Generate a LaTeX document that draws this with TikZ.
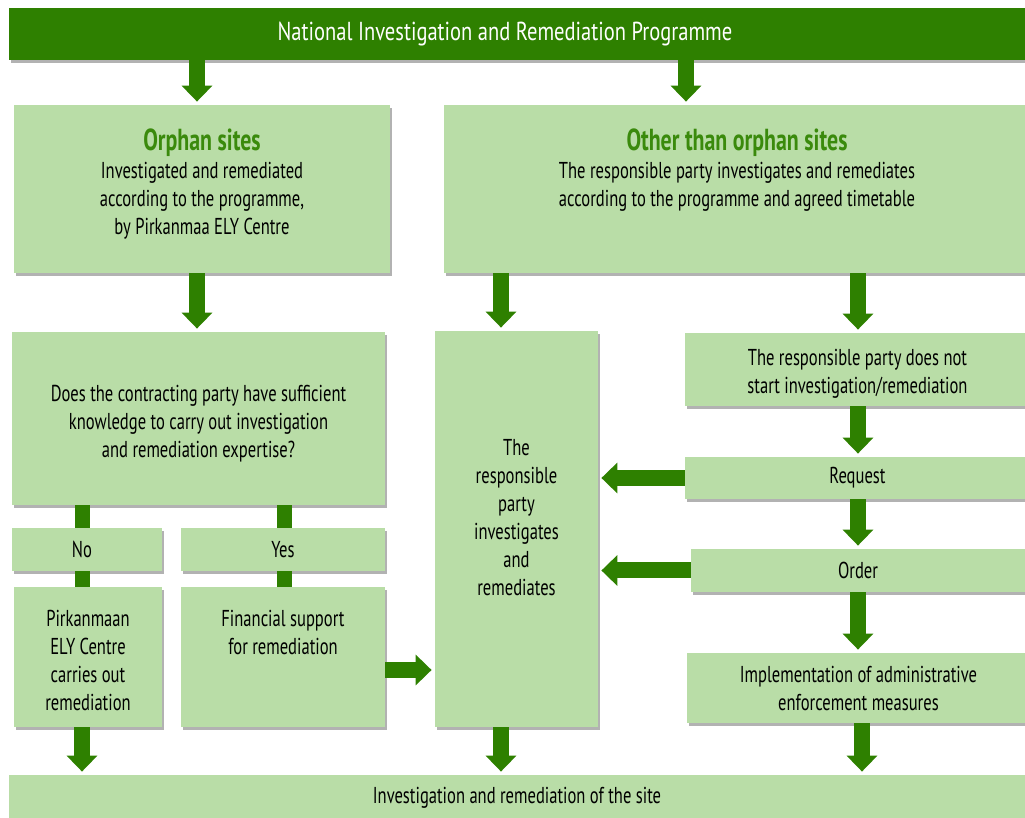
\documentclass[tikz,border=0pt]{standalone}
\usepackage{fontspec}
\setmainfont{PT Sans}[FakeStretch=0.72]
\newfontfamily\bannerfont{PT Sans}[FakeStretch=0.79]
\usepackage{tikz}
\usetikzlibrary{arrows.meta,shadows}

\definecolor{progGreen}{RGB}{46,128,0}
\definecolor{boxGreen}{RGB}{185,221,167}
\definecolor{titleGreen}{RGB}{58,138,12}
\newcommand{\sitetitle}{\fontsize{15.2}{14}\selectfont\bfseries\color{titleGreen}}

\begin{document}
\begin{tikzpicture}[
  x=0.5pt, y=-0.5pt,
  box/.style={rectangle, fill=boxGreen, align=center, inner sep=2pt,
              font=\fontsize{11.5}{14}\selectfont, text=black,
              drop shadow={shadow xshift=1pt, shadow yshift=-1.5pt,
                           opacity=0.3, fill=black}},
  banner/.style={box, fill=progGreen, text=white,
                 font=\bannerfont\fontsize{13}{14}\selectfont},
  arr/.style={-{Triangle[width=15pt,length=8pt]}, line width=8pt,
              progGreen, shorten >=1.5pt},
  bar/.style={line width=7.5pt, progGreen}
]
\useasboundingbox (0,0) rectangle (1025,818);

% boxes
\node[banner, minimum width=508pt, minimum height=26pt] (prog) at (517,34)
  {National Investigation and Remediation Programme\hspace{12pt}};
\node[box, minimum width=188pt, minimum height=84pt, text depth=7.5pt] (orphan) at (202,189)
  {{\sitetitle Orphan sites}\\Investigated and remediated\\according to the programme,\\by Pirkanmaa ELY Centre};
\node[box, minimum width=293pt, minimum height=84pt, text depth=21pt] (other) at (737,189)
  {{\sitetitle Other than orphan sites}\\The responsible party investigates and remediates\\according to the programme and agreed timetable};
\node[box, minimum width=186.5pt, minimum height=86.5pt, text height=41.3pt] (question) at (198.5,418.5)
  {Does the contracting party have sufficient\\knowledge to carry out investigation\\and remediation expertise?};
\node[box, minimum width=81.5pt, minimum height=198pt, text depth=11.5pt] (party) at (516.5,529)
  {The\\responsible\\party\\investigates\\and\\remediates};
\node[box, minimum width=172.5pt, minimum height=36.5pt, text height=26pt] (nostart) at (857.5,369.5)
  {The responsible party does not\\start investigation/remediation};
\node[box, minimum width=172.5pt, minimum height=21pt] (request) at (857.5,478) {Request};
\node[box, minimum width=167pt, minimum height=21.5pt] (order) at (858,570.5) {Order};
\node[box, minimum width=171.5pt, minimum height=35pt] (impl) at (858.5,688)
  {Implementation of administrative\\enforcement measures};
\node[box, minimum width=75pt, minimum height=21.5pt] (no) at (87,549.5) {No\hspace{5pt}};
\node[box, minimum width=102pt, minimum height=21.5pt] (yes) at (283,549.5) {Yes};
\node[box, minimum width=74pt, minimum height=70pt, text height=53.3pt] (pirk) at (88,657)
  {Pirkanmaan\\ELY Centre\\carries out\\remediation};
\node[box, minimum width=102pt, minimum height=70pt, text depth=25pt] (finance) at (283,657)
  {Financial support\\for remediation};
\node[box, minimum width=508pt, minimum height=23pt] (site) at (517,798)
  {Investigation and remediation of the site};

% arrow columns
\coordinate (xa) at (197,0);
\coordinate (xb) at (686,0);
\coordinate (xc) at (501,0);
\coordinate (xd) at (858,0);
\coordinate (xe) at (862,0);
\coordinate (xf) at (82,0);
\coordinate (xg) at (284,0);

% connectors
\draw[arr] (prog.south -| xa) -- (orphan.north -| xa);
\draw[arr] (prog.south -| xb) -- (other.north -| xb);
\draw[arr] (orphan.south -| xa) -- (question.north -| xa);
\draw[arr] (other.south -| xc) -- (party.north -| xc);
\foreach \a/\b in {other/nostart,nostart/request,request/order,order/impl}
  \draw[arr] (\a.south -| xd) -- (\b.north -| xd);
\draw[arr] (impl.south -| xe) -- (site.north -| xe);
\draw[arr] (pirk.south -| xf) -- (site.north -| xf);
\draw[arr] (party.south -| xc) -- (site.north -| xc);
\draw[arr] (request.west) -- (party.east |- request.west);
\draw[arr] (order.west) -- (party.east |- order.west);
\draw[arr] (finance.east |- 0,670) -- (party.west |- 0,670);
\foreach \a/\b in {question/no,no/pirk}
  \draw[bar] (\a.south -| xf) -- (\b.north -| xf);
\foreach \a/\b in {question/yes,yes/finance}
  \draw[bar] (\a.south -| xg) -- (\b.north -| xg);
\end{tikzpicture}
\end{document}
